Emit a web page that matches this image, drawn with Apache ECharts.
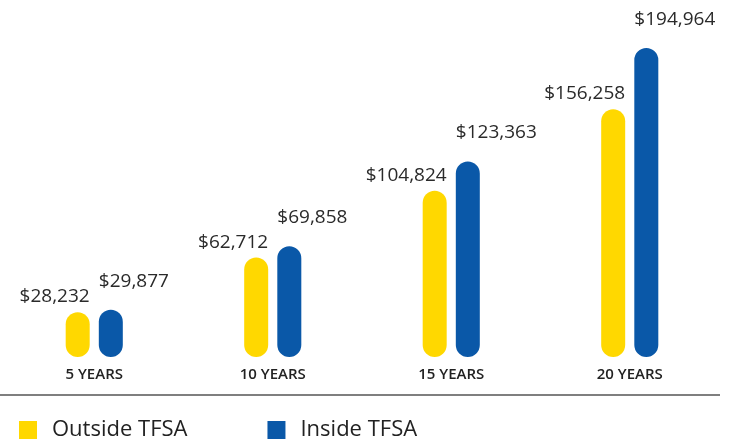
<!DOCTYPE html>
<html>
<head>
<meta charset="utf-8">
<script src="https://cdn.jsdelivr.net/npm/echarts@6/dist/echarts.min.js"></script>
<style>
html,body{margin:0;padding:0;background:#fff;}
#chart{width:731px;height:440px;}
</style>
</head>
<body>
<div id="chart"></div>
<script>
var years = ['5 YEARS', '10 YEARS', '15 YEARS', '20 YEARS'];
var outsideTfsa = [28232, 62712, 104824, 156258];
var insideTfsa = [29877, 69858, 123363, 194964];

function money(v){
	return '$' + String(v).replace(/\B(?=(\d{3})+(?!\d))/g, ',');
};

var chart = echarts.init(document.getElementById('chart'));
var option = {
	backgroundColor: '#fff',
	animation: false,
	textStyle: {fontFamily: 'Open Sans'},
	grid: {left: 5, right: 12, top: 40, bottom: 83},
	legend: {
		left: 14,
		top: 414,
		itemWidth: 18,
		itemHeight: 18,
		itemGap: 80,
		icon: 'rect',
		textStyle: {fontSize: 22, color: '#222', fontFamily: 'Open Sans', padding: [0, 0, 0, 10]},
		data: ['Outside TFSA', 'Inside TFSA']
	},
	xAxis: {
		type: 'category',
		data: years,
		axisLine: {show: false},
		axisTick: {show: false},
		axisLabel: {color: '#222', fontSize: 15, fontWeight: 600, margin: 10, fontFamily: 'Open Sans'}
	},
	yAxis: {
		type: 'value',
		min: 0,
		max: 200000,
		show: false,
		splitLine: {show: false}
	},
	graphic: [{
		type: 'line',
		shape: {x1: 0, y1: 395, x2: 720, y2: 395},
		style: {stroke: '#555', lineWidth: 1.5}
	}],
	series: [
		{
			name: 'Outside TFSA',
			type: 'bar',
			data: outsideTfsa,
			barWidth: 24,
			barGap: '38%',
			itemStyle: {color: '#FFD800', borderRadius: 12},
			label: {
				show: true, position: 'top', distance: 6, align: 'right', offset: [12, 0],
				fontSize: 19, fontWeight: 500, color: '#2a2a2a', fontFamily: 'Open Sans',
				formatter: function(p){ return money(p.value); }
			}
		},
		{
			name: 'Inside TFSA',
			type: 'bar',
			data: insideTfsa,
			barWidth: 24,
			itemStyle: {color: '#0A58A8', borderRadius: 12},
			label: {
				show: true, position: 'top', distance: 19, align: 'left', offset: [-12, 0],
				fontSize: 19, fontWeight: 500, color: '#2a2a2a', fontFamily: 'Open Sans',
				formatter: function(p){ return money(p.value); }
			}
		}
	]
};
chart.setOption(option);
</script>
</body>
</html>
